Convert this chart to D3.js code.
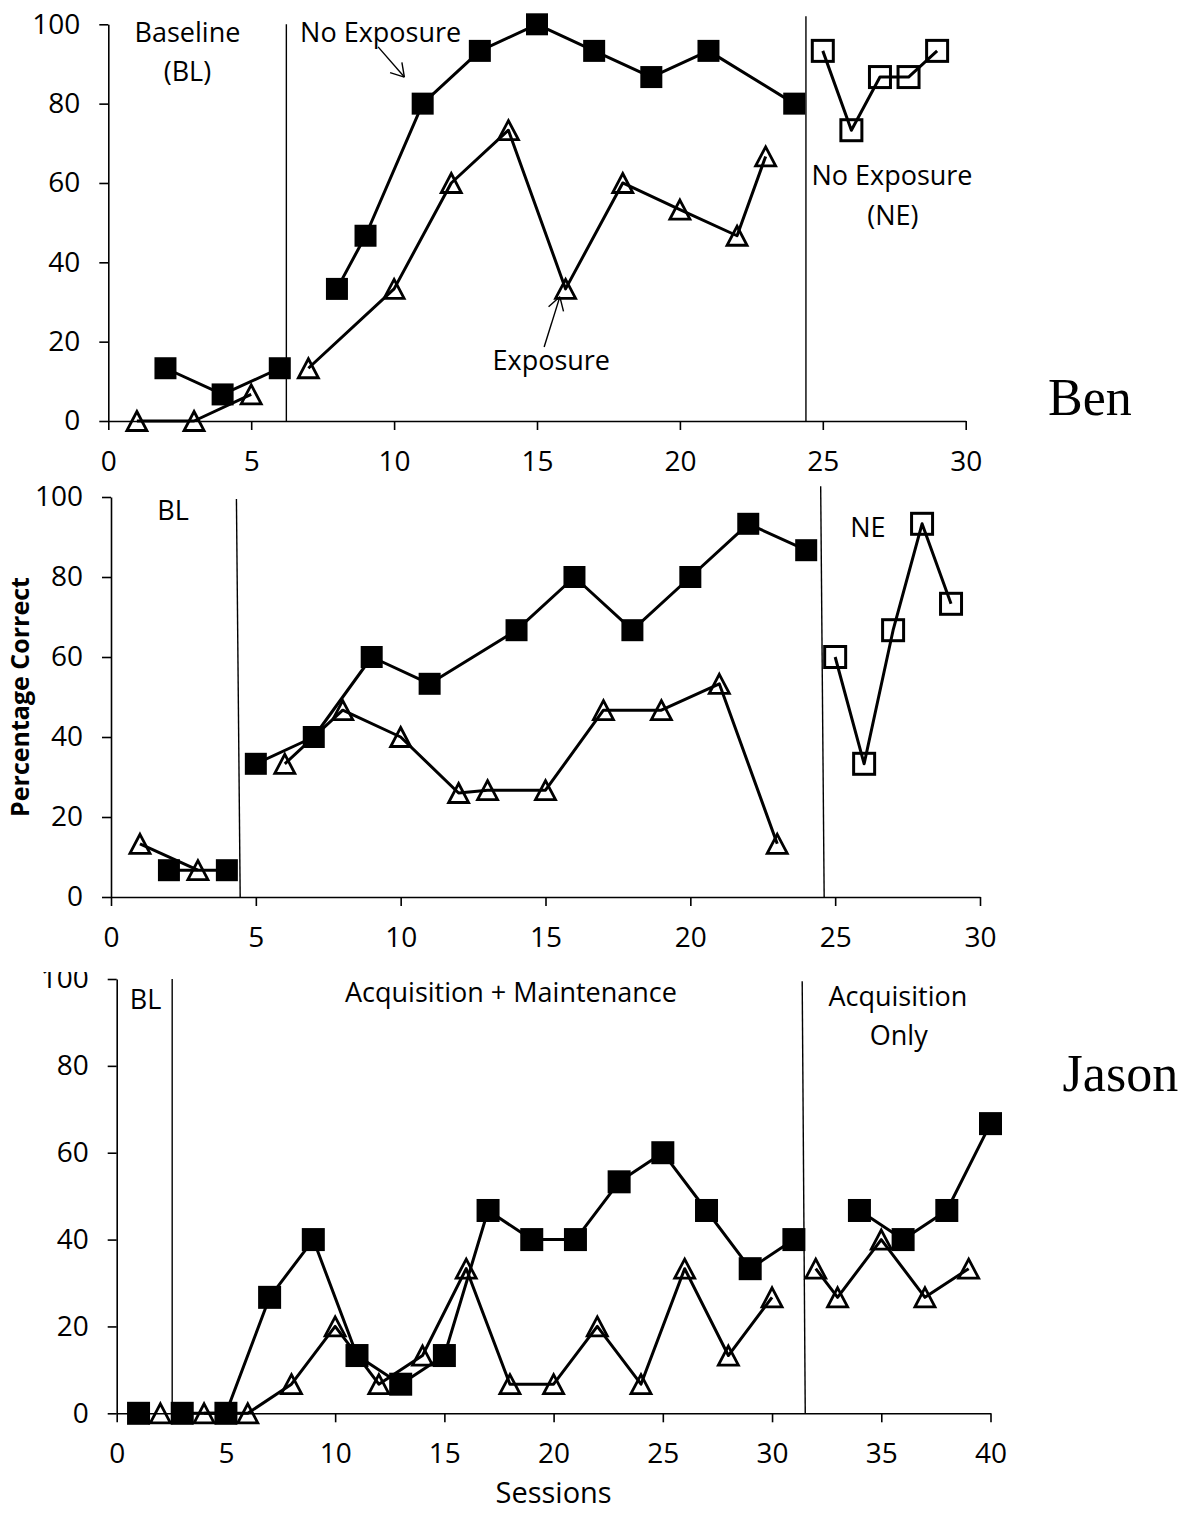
<!DOCTYPE html>
<html><head><meta charset="utf-8">
<script src="https://cdn.jsdelivr.net/npm/d3@7"></script>
<style>body{margin:0;background:#fff}</style>
</head><body>
<svg id="c" width="1186" height="1513" xmlns="http://www.w3.org/2000/svg"></svg>
<script>
// ---------- DATA ----------
const yTicks = [0, 20, 40, 60, 80, 100];
const xTicks30 = [0, 5, 10, 15, 20, 25, 30];
const xTicks40 = [0, 5, 10, 15, 20, 25, 30, 35, 40];

// Panel 1 (Ben, top)
const p1FilledSessions = [2, 4, 6, 8, 9, 11, 13, 15, 17, 19, 21, 24];
const p1FilledValues   = [13.3, 6.7, 13.3, 33.3, 46.7, 80, 93.3, 100, 93.3, 86.7, 93.3, 80];
const p1TriSessions    = [1, 3, 5, 7, 10, 12, 14, 16, 18, 20, 22, 23];
const p1TriValues      = [0, 0, 6.7, 13.3, 33.3, 60, 73.3, 33.3, 60, 53.3, 46.7, 66.7];
const p1OpenSessions   = [25, 26, 27, 28, 29];
const p1OpenValues     = [93.3, 73.3, 86.7, 86.7, 93.3];
const p1PhaseTop       = [6.23, 24.41];
const p1PhaseBottom    = [6.23, 24.41];
const p1PhaseTopValue  = [100, 102];

// Panel 2 (middle)
const p2FilledSessions = [2, 4, 5, 7, 9, 11, 14, 16, 18, 20, 22, 24];
const p2FilledValues   = [6.7, 6.7, 33.3, 40, 60, 53.3, 66.7, 80, 66.7, 80, 93.3, 86.7];
const p2TriSessions    = [1, 3, 6, 8, 10, 12, 13, 15, 17, 19, 21, 23];
const p2TriValues      = [13.3, 6.7, 33.3, 46.7, 40, 26, 26.7, 26.7, 46.7, 46.7, 53.3, 13.3];
const p2OpenSessions   = [25, 26, 27, 28, 29];
const p2OpenValues     = [60, 33.3, 66.7, 93.3, 73.3];
const p2PhaseTop       = [4.33, 24.5];
const p2PhaseBottom    = [4.46, 24.62];
const p2PhaseTopValue  = [99.5, 102.7];

// Panel 3 (Jason)
const p3FilledSessions = [1, 3, 5, 7, 9, 11, 13, 15, 17, 19, 21, 23, 25, 27, 29, 31, 34, 36, 38, 40];
const p3FilledValues   = [0, 0, 0, 26.7, 40, 13.3, 6.7, 13.3, 46.7, 40, 40, 53.3, 60, 46.7, 33.3, 40, 46.7, 40, 46.7, 66.7];
const p3TriSessions    = [2, 4, 6, 8, 10, 12, 14, 16, 18, 20, 22, 24, 26, 28, 30, 32, 33, 35, 37, 39];
const p3TriValues      = [0, 0, 0, 6.7, 20, 6.7, 13.3, 33.3, 6.7, 6.7, 20, 6.7, 33.3, 13.3, 26.7, 33.3, 26.7, 40, 26.7, 33.3];
const p3PhaseTop       = [2.54, 31.38];
const p3PhaseBottom    = [2.54, 31.52];
const p3PhaseTopValue  = [100, 99.5];

// ---------- DRAWING ----------
const svg = d3.select('#c');
svg.append('rect').attr('width', 1186).attr('height', 1513).attr('fill', '#fff');
const FONT = "'Open Sans', 'Noto Sans', sans-serif";

function segments(xs, ys, phases) {
  const segs = []; let cur = [];
  xs.forEach((xv, i) => {
    if (cur.length && phases.some(p => p > xs[i - 1] && p < xv)) { segs.push(cur); cur = []; }
    cur.push([xv, ys[i]]);
  });
  if (cur.length) segs.push(cur);
  return segs;
}

function panel(cfg) {
  const g = svg.append('g');
  const x = d3.scaleLinear().domain(cfg.xDomain).range(cfg.xRange);
  const y = d3.scaleLinear().domain([0, 100]).range(cfg.yRange);

  const xa = g.append('g').attr('transform', `translate(0,${y(0)})`)
    .call(d3.axisBottom(x).tickValues(cfg.xTicks).tickSize(9).tickSizeOuter(0).tickPadding(21));
  const ya = g.append('g').attr('transform', `translate(${x(0)},0)`)
    .call(d3.axisLeft(y).tickValues(yTicks).tickSize(9).tickSizeOuter(0).tickPadding(19));
  [xa, ya].forEach(a => {
    a.attr('font-family', null).attr('font-size', null);
    a.selectAll('path, line').attr('stroke', '#000').attr('stroke-width', 1.6);
    a.selectAll('text').attr('font-family', FONT).attr('font-size', 28).attr('fill', '#000');
  });
  if (cfg.clipYAxisTop != null) {
    const id = 'clipY' + cfg.xDomain[1];
    svg.append('clipPath').attr('id', id).attr('clipPathUnits', 'userSpaceOnUse').append('rect')
      .attr('x', -x(0)).attr('y', cfg.clipYAxisTop).attr('width', 1186).attr('height', 1513);
    ya.attr('clip-path', `url(#${id})`);
  }

  // phase change lines
  cfg.phaseTop.forEach((pt, i) => {
    g.append('line')
      .attr('x1', x(pt)).attr('y1', y(cfg.phaseTopValue[i]))
      .attr('x2', x(cfg.phaseBottom[i])).attr('y2', y(0))
      .attr('stroke', '#000').attr('stroke-width', 1.4);
  });

  const line = d3.line().x(d => x(d[0])).y(d => y(d[1]));
  const phases = cfg.phaseTop.map((p, i) => (p + cfg.phaseBottom[i]) / 2);

  function drawLines(xs, ys) {
    segments(xs, ys, phases).forEach(seg => {
      g.append('path').attr('d', line(seg)).attr('fill', 'none')
        .attr('stroke', '#000').attr('stroke-width', 3).attr('stroke-linejoin', 'round');
    });
  }

  // triangles (open)
  const tw = 20, th = 19;
  const triPath = `M0,${-th / 2}L${tw / 2},${th / 2}L${-tw / 2},${th / 2}Z`;
  drawLines(cfg.triX, cfg.triY);
  g.append('g').selectAll('path').data(cfg.triX.map((s, i) => [s, cfg.triY[i]])).join('path')
    .attr('d', triPath).attr('transform', d => `translate(${x(d[0])},${y(d[1])})`)
    .attr('fill', 'none').attr('stroke', '#000').attr('stroke-width', 2.8);

  // open squares
  if (cfg.openX) {
    drawLines(cfg.openX, cfg.openY);
    g.append('g').selectAll('rect').data(cfg.openX.map((s, i) => [s, cfg.openY[i]])).join('rect')
      .attr('x', d => x(d[0]) - 10.5).attr('y', d => y(d[1]) - 10.5)
      .attr('width', 21).attr('height', 21)
      .attr('fill', 'none').attr('stroke', '#000').attr('stroke-width', 3);
  }

  // filled squares
  const fs = cfg.sq;
  drawLines(cfg.filledX, cfg.filledY);
  g.append('g').selectAll('rect').data(cfg.filledX.map((s, i) => [s, cfg.filledY[i]])).join('rect')
    .attr('x', d => x(d[0]) - fs / 2).attr('y', d => y(d[1]) - fs / 2)
    .attr('width', fs).attr('height', fs).attr('fill', '#000');

  // annotations
  (cfg.texts || []).forEach(t => {
    g.append('text').attr('x', x(t.x)).attr('y', y(t.y))
      .attr('text-anchor', t.anchor || 'middle')
      .attr('font-family', t.serif ? "'Liberation Serif', 'Times New Roman', serif" : FONT)
      .attr('font-size', t.size || 27).attr('fill', '#000').text(t.text);
  });
  (cfg.arrows || []).forEach(a => {
    const x1 = x(a.from[0]), y1 = y(a.from[1]), x2 = x(a.to[0]), y2 = y(a.to[1]);
    g.append('line').attr('x1', x1).attr('y1', y1).attr('x2', x2).attr('y2', y2)
      .attr('stroke', '#000').attr('stroke-width', 1.4);
    const ang = Math.atan2(y1 - y2, x1 - x2), L = 15, spread = 0.55;
    [ang - spread, ang + spread].forEach(b => {
      g.append('line').attr('x1', x2).attr('y1', y2)
        .attr('x2', x2 + L * Math.cos(b)).attr('y2', y2 + L * Math.sin(b))
        .attr('stroke', '#000').attr('stroke-width', 1.4);
    });
  });
  return { x, y, g };
}

panel({
  xDomain: [0, 30], xRange: [108.3, 965.7], yRange: [421, 24.3], xTicks: xTicks30, sq: 22,
  filledX: p1FilledSessions, filledY: p1FilledValues,
  triX: p1TriSessions, triY: p1TriValues,
  openX: p1OpenSessions, openY: p1OpenValues,
  phaseTop: p1PhaseTop, phaseBottom: p1PhaseBottom, phaseTopValue: p1PhaseTopValue,
  texts: [
    { text: 'Baseline', x: 2.77, y: 95.6 },
    { text: '(BL)', x: 2.77, y: 85.6 },
    { text: 'No Exposure', x: 6.71, y: 95.6, anchor: 'start' },
    { text: 'Exposure', x: 15.5, y: 12.9 },
    { text: 'No Exposure', x: 27.42, y: 59.5 },
    { text: '(NE)', x: 27.45, y: 49.4 },
    { text: 'Ben', x: 32.88, y: 1.5, anchor: 'start', serif: true, size: 52 }
  ],
  arrows: [
    { from: [9.44, 94.3], to: [10.36, 86.7] },
    { from: [15.25, 18.65], to: [15.8, 31.3] }
  ]
});

panel({
  xDomain: [0, 30], xRange: [111, 980], yRange: [897, 497], xTicks: xTicks30, sq: 22,
  filledX: p2FilledSessions, filledY: p2FilledValues,
  triX: p2TriSessions, triY: p2TriValues,
  openX: p2OpenSessions, openY: p2OpenValues,
  phaseTop: p2PhaseTop, phaseBottom: p2PhaseBottom, phaseTopValue: p2PhaseTopValue,
  texts: [
    { text: 'BL', x: 2.14, y: 94.25 },
    { text: 'NE', x: 26.13, y: 90 }
  ]
});

const p3 = panel({
  xDomain: [0, 40], xRange: [116.7, 990.5], yRange: [1413.3, 979], xTicks: xTicks40, sq: 23,
  clipYAxisTop: 972,
  filledX: p3FilledSessions, filledY: p3FilledValues,
  triX: p3TriSessions, triY: p3TriValues,
  phaseTop: p3PhaseTop, phaseBottom: p3PhaseBottom, phaseTopValue: p3PhaseTopValue,
  texts: [
    { text: 'BL', x: 1.32, y: 93.1 },
    { text: 'Acquisition + Maintenance', x: 18.05, y: 94.7 },
    { text: 'Acquisition', x: 35.76, y: 93.8 },
    { text: 'Only', x: 35.8, y: 84.9 },
    { text: 'Jason', x: 43.3, y: 74.3, anchor: 'start', serif: true, size: 52 }
  ]
});

// axis titles
svg.append('text').attr('x', (p3.x.range()[0] + p3.x.range()[1]) / 2).attr('y', p3.y(0) + 90)
  .attr('text-anchor', 'middle').attr('font-family', FONT).attr('font-size', 29).attr('fill', '#000')
  .text('Sessions');
svg.append('text').attr('transform', 'translate(29,697) rotate(-90)')
  .attr('text-anchor', 'middle').attr('font-family', FONT).attr('font-weight', 'bold')
  .attr('font-size', 25).attr('fill', '#000').text('Percentage Correct');
</script>
</body></html>
